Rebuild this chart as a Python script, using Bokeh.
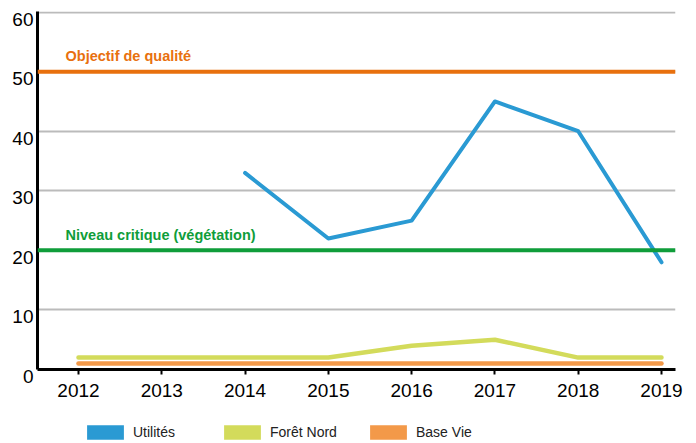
from bokeh.plotting import figure
from bokeh.models import (Range1d, FixedTicker, Legend, LegendItem,
                          ColumnDataSource, Span)
from bokeh.layouts import column, row
from bokeh.core.properties import value
from bokeh.embed import file_html
from bokeh.resources import INLINE

# ---- data ----
years = [2012, 2013, 2014, 2015, 2016, 2017, 2018, 2019]
utilites_years = [2014, 2015, 2016, 2017, 2018, 2019]
utilites = [33, 22, 25, 45, 40, 18]
foret_nord = [2, 2, 2, 2, 4, 5, 2, 2]
base_vie = [1, 1, 1, 1, 1, 1, 1, 1]
ref_values = [50, 20]
ref_labels = ["Objectif de qualité", "Niveau critique (végétation)"]
ref_colors = ["#E8700E", "#0F9D3A"]
y_ticks = [0, 10, 20, 30, 40, 50, 60]
series_names = ["Utilités", "Forêt Nord", "Base Vie"]
series_colors = ["#2A9AD3", "#D3DB5B", "#F39949"]

FONT = "Liberation Sans"
X0, X1 = 2011.508, 2019.168
Y0, Y1 = 0, 60.1
STRIP_W = 34
MAIN_W = 654
MAIN_H = 410
TOP, BOTTOM = 11, 41
FRAME_BOTTOM = MAIN_H - BOTTOM

p = figure(width=MAIN_W, height=MAIN_H, output_backend="svg",
           toolbar_location=None,
           x_range=Range1d(X0, X1), y_range=Range1d(Y0, Y1),
           min_border_left=3, min_border_right=13, min_border_top=TOP,
           min_border_bottom=BOTTOM)
p.outline_line_color = None
p.background_fill_color = "white"

# grid
p.xgrid.visible = False
p.ygrid.ticker = FixedTicker(ticks=y_ticks[1:])
p.ygrid.grid_line_color = "#BBBBBB"
p.ygrid.grid_line_width = 2

# axes
p.xaxis.ticker = FixedTicker(ticks=years)
p.xaxis.axis_line_width = 3
p.xaxis.axis_line_color = "black"
p.xaxis.major_tick_line_width = 2
p.xaxis.major_tick_out = 5
p.xaxis.major_tick_in = 0
p.xaxis.minor_tick_line_color = None
p.xaxis.major_label_standoff = 9
p.xaxis.major_label_text_font = FONT
p.xaxis.major_label_text_font_size = "19px"
p.xaxis.major_label_text_color = "black"

p.yaxis.ticker = FixedTicker(ticks=[])
p.yaxis.axis_line_width = 3
p.yaxis.axis_line_color = "black"
p.yaxis.major_tick_line_color = None
p.yaxis.minor_tick_line_color = None
p.yaxis.major_tick_out = 0
p.yaxis.major_tick_in = 0
p.yaxis.major_label_standoff = 0

# reference lines
for v, c in zip(ref_values, ref_colors):
    p.add_layout(Span(location=v, dimension="width", line_color=c,
                      line_width=4))

ref_src = ColumnDataSource(dict(x=[X0, X0], y=ref_values, t=ref_labels,
                                c=ref_colors))
p.text(x="x", y="y", text="t", text_color="c", source=ref_src,
       x_offset=28, y_offset=-15.5, text_baseline="alphabetic",
       text_align="left", text_font=value(FONT), text_font_size="14.5px",
       text_font_style="bold")

# series
p.line(years, base_vie, line_color=series_colors[2], line_width=4.5,
       line_cap="round", line_join="round")
p.line(years, foret_nord, line_color=series_colors[1], line_width=4.5,
       line_cap="round", line_join="round")
p.line(utilites_years, utilites, line_color=series_colors[0], line_width=4,
       line_cap="round", line_join="round")

# ---- y tick label strip (labels hang just below their tick) ----
ppu = (FRAME_BOTTOM - TOP) / (Y1 - Y0)
ys = figure(width=STRIP_W, height=MAIN_H, output_backend="svg",
            toolbar_location=None, x_axis_location=None,
            y_axis_location=None, x_range=Range1d(0, 1),
            y_range=Range1d(Y0 - BOTTOM / ppu, Y1 + TOP / ppu),
            min_border_left=0, min_border_right=0, min_border_top=0,
            min_border_bottom=0, frame_align=False)
ys.grid.visible = False
ys.outline_line_color = None
ys.text(x=[1] * len(y_ticks), y=y_ticks, text=[str(v) for v in y_ticks],
        x_offset=-1, y_offset=7, text_align="right", text_baseline="middle",
        text_font=value(FONT), text_font_size="19px", text_color="black")

# ---- legend strip ----
lg = figure(width=STRIP_W + MAIN_W, height=33, output_backend="svg",
            toolbar_location=None, x_axis_location=None,
            y_axis_location=None, x_range=Range1d(0, 1),
            y_range=Range1d(0, 1), min_border_left=0, min_border_right=0,
            min_border_top=0, min_border_bottom=0, frame_align=False)
lg.grid.visible = False
lg.outline_line_color = None

# Bokeh insets area swatches by 10% on each side: 46x18 -> ~37x14 box
legend_x = [82, 219, 365]
for name, c, lx in zip(series_names, series_colors, legend_x):
    # proxy renderer kept outside the visible range; only its legend swatch shows
    r = lg.quad(left=[-3], right=[-2], top=[-2], bottom=[-3], fill_color=c,
                line_color=None)
    lg.add_layout(Legend(items=[LegendItem(label=name, renderers=[r])],
                         orientation="horizontal", location=(lx, 2),
                         glyph_width=46, glyph_height=18, label_standoff=5,
                         padding=0, margin=0, border_line_color=None,
                         background_fill_alpha=0, label_text_font=FONT,
                         label_text_font_size="14px", label_height=14,
                         label_text_color="#222222",
                         label_text_baseline="middle"), "center")

layout = column(row(ys, p, spacing=0), lg, spacing=0)
open("out.html", "w").write(file_html(layout, INLINE))
